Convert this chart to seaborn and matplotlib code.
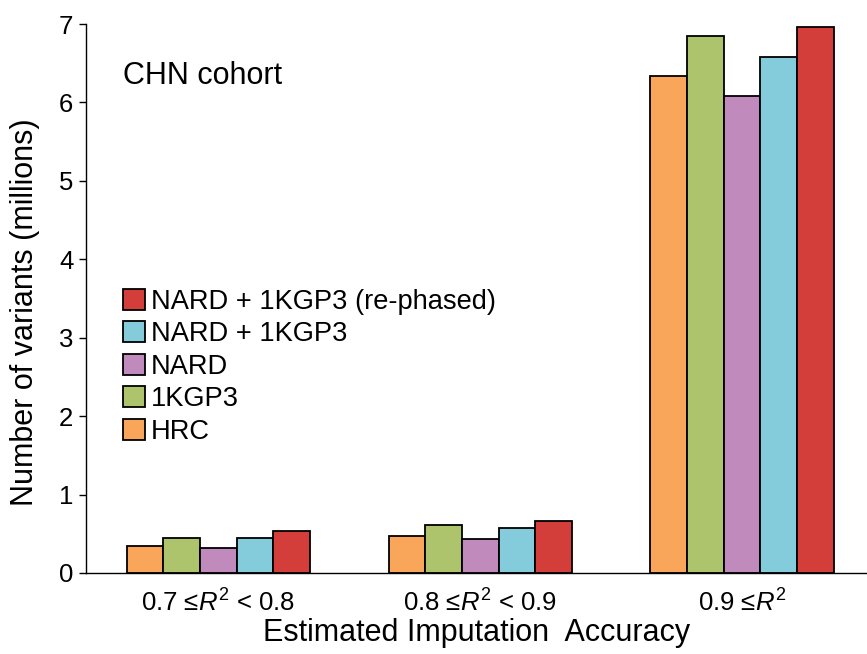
import matplotlib
matplotlib.use("Agg")
import matplotlib.pyplot as plt
import seaborn as sns
import pandas as pd

categories = [r"0.7 ≤$\mathit{R}^{2}$ < 0.8", r"0.8 ≤$\mathit{R}^{2}$ < 0.9", r"0.9 ≤$\mathit{R}^{2}$"]
panels = ["HRC", "1KGP3", "NARD", "NARD + 1KGP3", "NARD + 1KGP3 (re-phased)"]
hrc = [0.35, 0.475, 6.34]
kgp3 = [0.45, 0.61, 6.85]
nard = [0.32, 0.43, 6.08]
nard_kgp3 = [0.45, 0.58, 6.58]
nard_kgp3_rephased = [0.54, 0.66, 6.96]
colors = ["#F9A65A", "#ADC46C", "#C08ABC", "#84CBDC", "#D33D3A"]

series = [hrc, kgp3, nard, nard_kgp3, nard_kgp3_rephased]
rows = []
for p, vals in zip(panels, series):
    for c, v in zip(categories, vals):
        rows.append({"range": c, "panel": p, "value": v})
df = pd.DataFrame(rows)

sns.set_style("white")
plt.rcParams["font.family"] = ["Liberation Sans", "DejaVu Sans"]
plt.rcParams["mathtext.fontset"] = "custom"
plt.rcParams["mathtext.rm"] = "Liberation Sans"
plt.rcParams["mathtext.it"] = "Liberation Sans:italic"
for k in ["text.color", "axes.labelcolor", "xtick.color", "ytick.color", "axes.edgecolor"]:
    plt.rcParams[k] = "black"

fig = plt.figure(figsize=(8.67, 6.54), dpi=100)
ax = fig.add_axes([86/867, 1-573/654, 1-86/867, (573-24)/654])

sns.barplot(data=df, x="range", y="value", hue="panel", hue_order=panels,
            order=categories, palette=colors, edgecolor="black", linewidth=1.3,
            width=0.7, gap=0, ax=ax, saturation=1)

ax.set_ylim(0, 7)
ax.set_xlim(-0.506, 2.477)
ax.set_yticks(range(0, 8))
ax.tick_params(axis="y", labelsize=18.5, length=5, width=1, direction="out", left=True, pad=4)
ax.tick_params(axis="x", labelsize=18.5, length=0, pad=12)
for s in ["top", "right"]:
    ax.spines[s].set_visible(False)
for s in ["left", "bottom"]:
    ax.spines[s].set_linewidth(1)
ax.set_ylabel("Number of variants (millions)", fontsize=22)
ax.set_xlabel("Estimated Imputation  Accuracy", fontsize=22, labelpad=1)
ax.yaxis.set_label_coords(-0.059, 0.475)

handles, labels = ax.get_legend_handles_labels()
ax.legend(handles[::-1], labels[::-1], loc="upper left", bbox_to_anchor=(0.033, 0.538),
          frameon=False, fontsize=19.6, handlelength=0.82, handleheight=0.82,
          handletextpad=0.22, labelspacing=0.24, borderaxespad=0)

ax.text(0.047, 0.905, "CHN cohort", transform=ax.transAxes, fontsize=22, va="center", ha="left")

fig.savefig("out.png", dpi=100)
